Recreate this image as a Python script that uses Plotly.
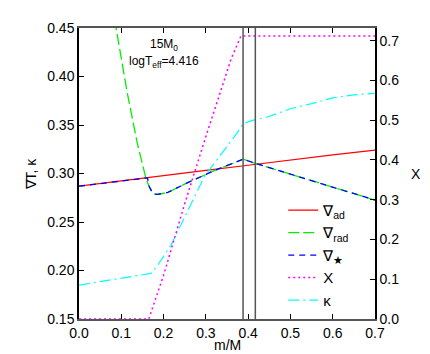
import plotly.graph_objects as go

# mass coordinate grids and values
m_ad = [0.0, 0.1, 0.2, 0.3, 0.4, 0.5, 0.6, 0.7]
nabla_ad = [0.2869, 0.2925, 0.2980, 0.3032, 0.3085, 0.3140, 0.3192, 0.3242]

m_rad = [0.06, 0.087, 0.1146, 0.138, 0.158, 0.166, 0.174, 0.18, 0.186, 0.21,
         0.257, 0.32, 0.388, 0.415, 0.534, 0.7]
nabla_rad = [0.52, 0.45, 0.382, 0.331, 0.2954, 0.2865, 0.280, 0.2786, 0.2784, 0.2805,
             0.2905, 0.303, 0.3147, 0.3107, 0.2945, 0.2726]

m_star = [0.0, 0.1, 0.162, 0.166, 0.174, 0.18, 0.186, 0.21, 0.257, 0.32, 0.388,
          0.415, 0.534, 0.7]
nabla_star = [0.2869, 0.2925, 0.2955, 0.2865, 0.280, 0.2786, 0.2784, 0.2805, 0.2905,
              0.303, 0.3147, 0.3107, 0.2945, 0.2726]

m_X = [0.0, 0.165, 0.2, 0.25, 0.297, 0.336, 0.36, 0.383, 0.7]
X_vals = [0.0, 0.0, 0.11, 0.29, 0.449, 0.578, 0.655, 0.712, 0.712]

m_kappa = [0.0, 0.138, 0.17, 0.186, 0.2174, 0.2966, 0.36, 0.3757, 0.3875, 0.41,
           0.443, 0.502, 0.55, 0.60, 0.65, 0.7]
kappa = [0.185, 0.1953, 0.197, 0.2055, 0.2259, 0.297, 0.334, 0.3428, 0.3513, 0.3547,
         0.358, 0.367, 0.372, 0.378, 0.381, 0.3827]

boundaries = [0.388, 0.417]

FONT = "Liberation Sans, Arial, sans-serif"

fig = go.Figure()

fig.add_trace(go.Scatter(x=m_ad, y=nabla_ad, mode='lines', name='∇<sub>ad</sub>',
                         line=dict(color='#ff0000', width=1.2)))
fig.add_trace(go.Scatter(x=m_rad, y=nabla_rad, mode='lines', name='∇<sub>rad</sub>',
                         line=dict(color='#00ee00', width=1.3, dash='11px,4px')))
fig.add_trace(go.Scatter(x=m_star, y=nabla_star, mode='lines', name='∇<sub>★</sub>',
                         line=dict(color='#0000ff', width=1.3, dash='6px,5px')))
fig.add_trace(go.Scatter(x=m_X, y=X_vals, mode='lines', name='X', yaxis='y2',
                         line=dict(color='#ff00ff', width=1.5, dash='2px,3px')))
fig.add_trace(go.Scatter(x=m_kappa, y=kappa, mode='lines', name='κ',
                         line=dict(color='#00ffff', width=1.2, dash='11px,4px,2px,4px')))

for b in boundaries:
    fig.add_shape(type='line', x0=b, x1=b, y0=0, y1=1, xref='x', yref='paper',
                  line=dict(color='#555555', width=1.5))

fig.add_annotation(x=0.2, y=0.432, text='15M<sub>0</sub>', showarrow=False,
                   font=dict(size=12, color='black'))
fig.add_annotation(x=0.2, y=0.415, text='logT<sub>eff</sub>=4.416', showarrow=False,
                   font=dict(size=12, color='black'))

# axis titles
fig.add_annotation(x=-0.196, y=0.5, xref='paper', yref='paper', text='∇T, κ',
                   textangle=-90, showarrow=False, font=dict(size=14, color='black'))
fig.add_annotation(x=1.162, y=0.5, xref='paper', yref='paper', text='X',
                   showarrow=False, font=dict(size=14, color='black'))
fig.add_annotation(x=0.5, y=-0.122, xref='paper', yref='paper', text='m/M',
                   showarrow=False, font=dict(size=14, color='black'))

fig.update_layout(
    width=430, height=354,
    margin=dict(l=71, r=63, t=16, b=43),
    paper_bgcolor='white', plot_bgcolor='white',
    font=dict(family=FONT, size=14, color='black'),
    showlegend=True,
    legend=dict(x=0.69, y=0.43, xanchor='left', yanchor='top',
                bgcolor='rgba(0,0,0,0)', font=dict(size=15), tracegroupgap=0),
    xaxis=dict(range=[0, 0.7], dtick=0.1, tickformat='.1f', showgrid=False, zeroline=False,
               showline=True, linecolor='#555555', linewidth=1.5, mirror='ticks',
               ticks='inside', ticklen=5, tickcolor='black'),
    yaxis=dict(range=[0.15, 0.45], dtick=0.05, tickformat='.2f', showgrid=False, zeroline=False,
               showline=True, linecolor='black', linewidth=1.5,
               ticks='inside', ticklen=5, tickcolor='black'),
    yaxis2=dict(range=[0, 0.732], dtick=0.1, tickformat='.1f', overlaying='y', side='right',
                showgrid=False, zeroline=False, showline=True, linecolor='black', linewidth=1.5,
                ticks='inside', ticklen=5, tickcolor='black'),
)

fig.write_html("out.html")
